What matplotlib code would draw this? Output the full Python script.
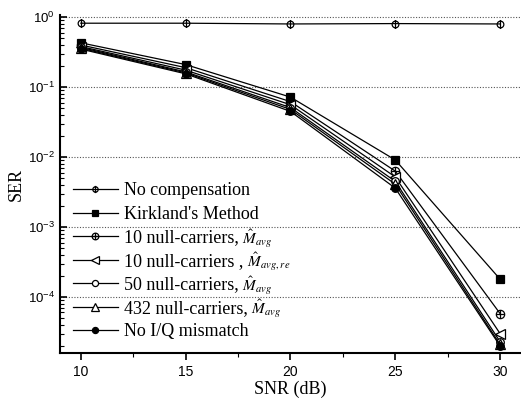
import matplotlib.pyplot as plt
import numpy as np
from matplotlib.path import Path
from matplotlib.ticker import LogLocator, NullFormatter, MultipleLocator

snr = [10, 15, 20, 25, 30]
no_comp = [0.82, 0.82, 0.80, 0.81, 0.80]
kirkland = [0.43, 0.21, 0.072, 0.0091, 1.8e-4]
null10 = [0.40, 0.19, 0.062, 0.0063, 5.8e-5]
null10_re = [0.38, 0.175, 0.056, 0.0052, 3.0e-5]
null50 = [0.37, 0.165, 0.051, 0.0045, 2.3e-5]
null432 = [0.36, 0.16, 0.048, 0.0041, 2.1e-5]
no_iq = [0.35, 0.155, 0.045, 0.0036, 2.0e-5]

labels = ["No compensation", "Kirkland's Method",
          "10 null-carriers,", "10 null-carriers ,",
          "50 null-carriers,", "432 null-carriers,",
          "No I/Q mismatch"]
# estimator symbol written after some legend labels
suffix = [None, None, r"$\hat{M}_{avg}$", r"$\hat{M}_{avg,re}$",
          r"$\hat{M}_{avg}$", r"$\hat{M}_{avg}$", None]

# circle with a vertical bar, and circle with a cross
circ = Path.unit_circle()
vbar = Path([[0, -1.35], [0, 1.35]], [Path.MOVETO, Path.LINETO])
phi = Path.make_compound_path(circ, vbar)
cross = Path.make_compound_path(
    circ,
    Path([[0, -1.0], [0, 1.0]], [Path.MOVETO, Path.LINETO]),
    Path([[-1.0, 0], [1.0, 0]], [Path.MOVETO, Path.LINETO]))

plt.rcParams['mathtext.fontset'] = 'stix'
fig = plt.figure(figsize=(5.21, 3.98), dpi=100)
ax = fig.add_axes([0.115, 0.113, 0.885, 0.849])

series = [no_comp, kirkland, null10, null10_re, null50, null432, no_iq]
styles = [dict(marker=phi, mfc='none', ms=6.5),
          dict(marker='s', mfc='black', ms=5.5),
          dict(marker=cross, mfc='none', ms=6),
          dict(marker='<', mfc='white', ms=6.5),
          dict(marker='o', mfc='white', ms=5.5),
          dict(marker='^', mfc='white', ms=6.5),
          dict(marker='o', mfc='black', ms=5.5)]

for vals, lab, st in zip(series, labels, styles):
    ax.plot(snr, vals, color='black', lw=0.9, mec='black', mew=0.9, label=lab, **st)

ax.set_yscale('log')
ax.set_xlim(9, 31)
ax.set_ylim(1.58e-5, 1.07)
ax.yaxis.set_major_locator(LogLocator(base=10, numticks=10))
ax.yaxis.set_minor_locator(LogLocator(base=10, subs=np.arange(2, 10), numticks=10))
ax.yaxis.set_minor_formatter(NullFormatter())
ax.xaxis.set_major_locator(MultipleLocator(5))
ax.xaxis.set_minor_locator(MultipleLocator(2.5))
ax.grid(axis='y', which='major', ls=(0, (1, 1.5)), color='#555555', lw=0.8)

for s in ['top', 'right']:
    ax.spines[s].set_visible(False)
ax.spines['left'].set_linewidth(1.5)
ax.spines['bottom'].set_linewidth(1.5)
ax.tick_params(axis='y', which='major', direction='in', length=5, width=1.2, labelsize=9.5)
ax.tick_params(axis='y', which='minor', direction='in', length=3, width=0.8)
ax.tick_params(axis='x', which='major', direction='out', length=5, width=1.2, labelsize=10)
ax.tick_params(axis='x', which='minor', direction='out', length=3, width=0.8)
for t in ax.get_xticklabels() + ax.get_yticklabels():
    t.set_fontfamily('Liberation Sans')

ax.set_xlabel('SNR (dB)', family='Liberation Serif', fontsize=13, labelpad=1)
ax.set_ylabel('SER', family='Liberation Serif', fontsize=13, labelpad=2)

leg = ax.legend(loc='lower left', bbox_to_anchor=(0.0, 0.0), frameon=False,
                prop={'family': 'Liberation Serif', 'size': 13},
                handlelength=2.5, handletextpad=0.35, labelspacing=0.36,
                borderaxespad=0.3, markerscale=0.8)

# drawn after the legend so the text positions are known
for txt, suf in zip(leg.get_texts(), suffix):
    if suf is None:
        continue
    ax.annotate(suf, xy=(1, 0), xycoords=txt, xytext=(2.5, 1.8),
                textcoords='offset points', va='baseline', ha='left',
                fontsize=11, zorder=10)

fig.savefig('out.png', dpi=100)
